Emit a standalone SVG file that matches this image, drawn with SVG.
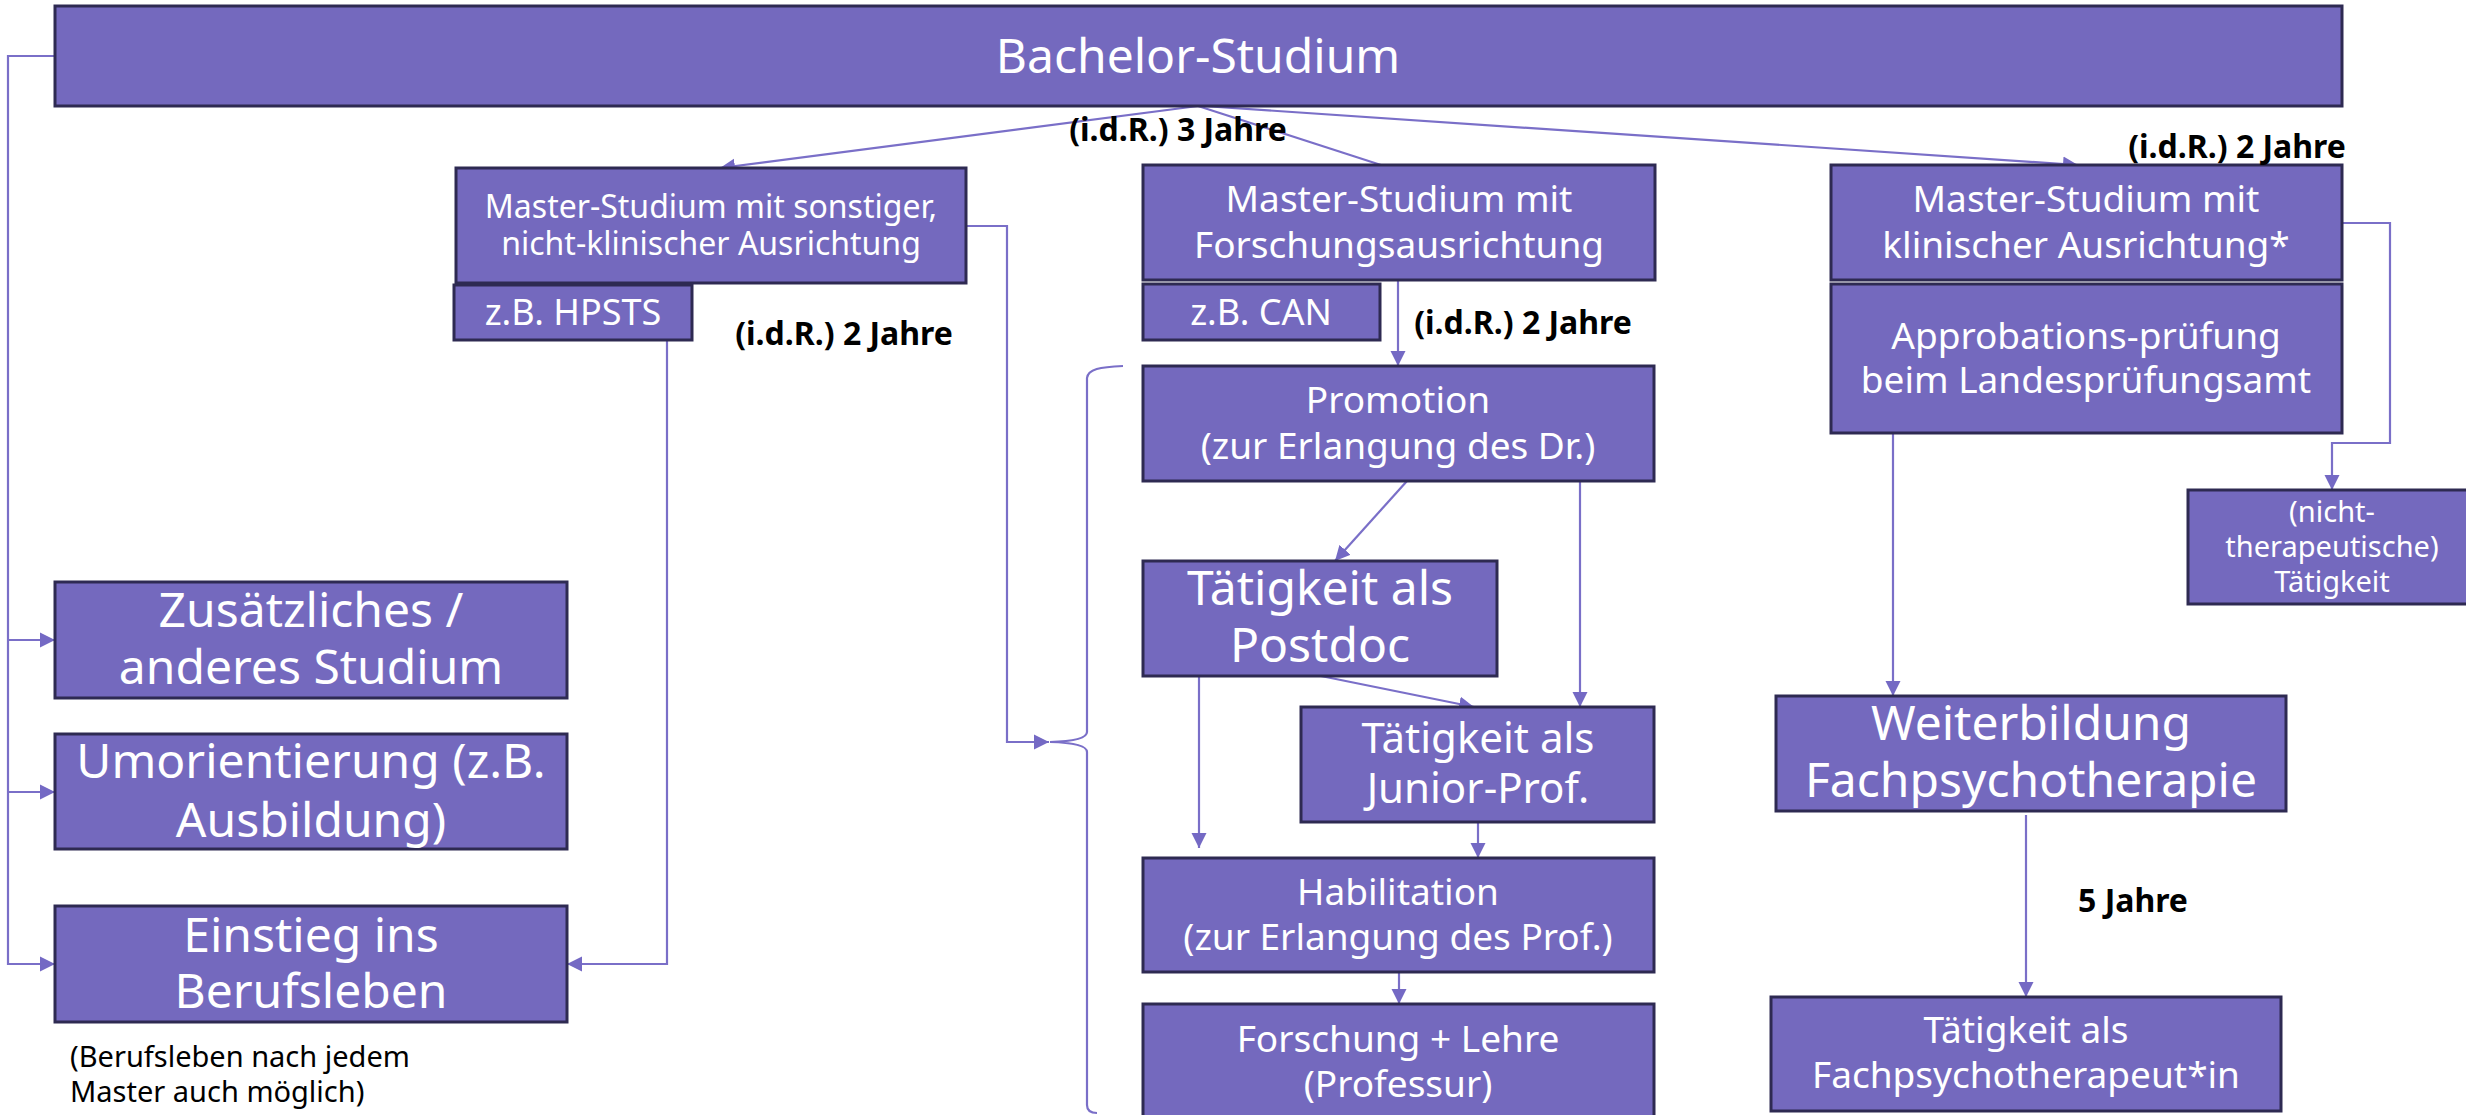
<svg xmlns="http://www.w3.org/2000/svg" width="2466" height="1115" viewBox="0 0 2466 1115">
<style>
.box{fill:#7469be;stroke:#2e2a52;stroke-width:3}
.t{font-family:"Noto Sans","Open Sans",sans-serif;fill:#ffffff;text-anchor:middle}
.lbl{font-family:"Noto Sans","Open Sans",sans-serif;font-weight:bold;fill:#000000;text-anchor:middle;font-size:32px}
.note{font-family:"Noto Sans","Open Sans",sans-serif;fill:#000000;font-size:29px}
.c{fill:none;stroke:#7a6fc8;stroke-width:2.2}
</style>
<defs>
<marker id="ah" markerUnits="userSpaceOnUse" markerWidth="16" markerHeight="16" viewBox="0 0 16 16" refX="15" refY="8" orient="auto">
<path d="M0,0.5 L15,8 L0,15.5 Z" fill="#7469c4"/>
</marker>
</defs>
<rect width="2466" height="1115" fill="#ffffff"/>

<g id="connectors">
<path class="c" d="M1198,106 L720,168" marker-end="url(#ah)"/>
<path class="c" d="M1198,106 L1381,165"/>
<path class="c" d="M1203,106 L2078,165" marker-end="url(#ah)"/>
<path class="c" d="M1398,280 V366" marker-end="url(#ah)"/>
<path class="c" d="M966,226 H1007 V742 H1049" marker-end="url(#ah)"/>
<path class="c" d="M1123,366 C1100,367 1088,369 1087,378 V732 Q1087,741 1050,742 Q1087,743 1087,752 V1105 Q1087,1113 1097,1113"/>
<path class="c" d="M55,56 H8 V964 H55" marker-end="url(#ah)"/>
<path class="c" d="M8,640 H55" marker-end="url(#ah)"/>
<path class="c" d="M8,792 H55" marker-end="url(#ah)"/>
<path class="c" d="M667,340 V964 H567" marker-end="url(#ah)"/>
<path class="c" d="M1407,481 L1335,561" marker-end="url(#ah)"/>
<path class="c" d="M1580,481 V707" marker-end="url(#ah)"/>
<path class="c" d="M1321,676 L1474,707" marker-end="url(#ah)"/>
<path class="c" d="M1199,676 V848" marker-end="url(#ah)"/>
<path class="c" d="M1478,822 V858" marker-end="url(#ah)"/>
<path class="c" d="M1399,972 V1004" marker-end="url(#ah)"/>
<path class="c" d="M1893,433 V696" marker-end="url(#ah)"/>
<path class="c" d="M2026,815 V997" marker-end="url(#ah)"/>
<path class="c" d="M2342,223 H2390 V443 H2332 V490" marker-end="url(#ah)"/>
</g>

<g id="bachelor">
<rect class="box" x="55" y="6" width="2287" height="100"/>
<text class="t" x="1198" y="73" font-size="48">Bachelor-Studium</text>
</g>

<g id="master-sonstig">
<rect class="box" x="456" y="168" width="510" height="115"/>
<text class="t" x="711" y="218" font-size="32">Master-Studium mit sonstiger,</text>
<text class="t" x="711" y="255" font-size="32">nicht-klinischer Ausrichtung</text>
</g>

<g id="hpsts">
<rect class="box" x="454" y="285" width="238" height="55"/>
<text class="t" x="573" y="325" font-size="36">z.B. HPSTS</text>
</g>

<g id="master-forschung">
<rect class="box" x="1143" y="165" width="512" height="115"/>
<text class="t" x="1399" y="212" font-size="37">Master-Studium mit</text>
<text class="t" x="1399" y="258" font-size="37">Forschungsausrichtung</text>
</g>

<g id="can">
<rect class="box" x="1143" y="284" width="237" height="56"/>
<text class="t" x="1261" y="325" font-size="36">z.B. CAN</text>
</g>

<g id="master-klinisch">
<rect class="box" x="1831" y="165" width="511" height="115"/>
<text class="t" x="2086" y="212" font-size="37">Master-Studium mit</text>
<text class="t" x="2086" y="258" font-size="37">klinischer Ausrichtung*</text>
</g>

<g id="approbation">
<rect class="box" x="1831" y="284" width="511" height="149"/>
<text class="t" x="2086" y="349" font-size="37">Approbations-prüfung</text>
<text class="t" x="2086" y="393" font-size="37">beim Landesprüfungsamt</text>
</g>

<g id="promotion">
<rect class="box" x="1143" y="366" width="511" height="115"/>
<text class="t" x="1398" y="413" font-size="37">Promotion</text>
<text class="t" x="1398" y="459" font-size="37">(zur Erlangung des Dr.)</text>
</g>

<g id="postdoc">
<rect class="box" x="1143" y="561" width="354" height="115"/>
<text class="t" x="1320" y="605" font-size="48">Tätigkeit als</text>
<text class="t" x="1320" y="662" font-size="48">Postdoc</text>
</g>

<g id="juniorprof">
<rect class="box" x="1301" y="707" width="353" height="115"/>
<text class="t" x="1478" y="753" font-size="42">Tätigkeit als</text>
<text class="t" x="1478" y="803" font-size="42">Junior-Prof.</text>
</g>

<g id="habilitation">
<rect class="box" x="1143" y="858" width="511" height="114"/>
<text class="t" x="1398" y="905" font-size="37">Habilitation</text>
<text class="t" x="1398" y="950" font-size="37">(zur Erlangung des Prof.)</text>
</g>

<g id="professur">
<rect class="box" x="1143" y="1004" width="511" height="115"/>
<text class="t" x="1398" y="1052" font-size="37">Forschung + Lehre</text>
<text class="t" x="1398" y="1097" font-size="37">(Professur)</text>
</g>

<g id="weiterbildung">
<rect class="box" x="1776" y="696" width="510" height="115"/>
<text class="t" x="2031" y="740" font-size="48">Weiterbildung</text>
<text class="t" x="2031" y="797" font-size="48">Fachpsychotherapie</text>
</g>

<g id="fachpsychotherapeut">
<rect class="box" x="1771" y="997" width="510" height="114"/>
<text class="t" x="2026" y="1043" font-size="37">Tätigkeit als</text>
<text class="t" x="2026" y="1088" font-size="37">Fachpsychotherapeut*in</text>
</g>

<g id="nicht-therapeutisch">
<rect class="box" x="2188" y="490" width="290" height="114"/>
<text class="t" x="2332" y="522" font-size="29">(nicht-</text>
<text class="t" x="2332" y="557" font-size="29">therapeutische)</text>
<text class="t" x="2332" y="592" font-size="29">Tätigkeit</text>
</g>

<g id="zusaetzlich">
<rect class="box" x="55" y="582" width="512" height="116"/>
<text class="t" x="311" y="627" font-size="48">Zusätzliches /</text>
<text class="t" x="311" y="684" font-size="48">anderes Studium</text>
</g>

<g id="umorientierung">
<rect class="box" x="55" y="734" width="512" height="115"/>
<text class="t" x="311" y="778" font-size="48">Umorientierung (z.B.</text>
<text class="t" x="311" y="837" font-size="48">Ausbildung)</text>
</g>

<g id="einstieg">
<rect class="box" x="55" y="906" width="512" height="116"/>
<text class="t" x="311" y="952" font-size="48">Einstieg ins</text>
<text class="t" x="311" y="1008" font-size="48">Berufsleben</text>
</g>

<g id="labels">
<text class="lbl" x="1178" y="141">(i.d.R.) 3 Jahre</text>
<text class="lbl" x="844" y="345">(i.d.R.) 2 Jahre</text>
<text class="lbl" x="1523" y="334">(i.d.R.) 2 Jahre</text>
<text class="lbl" x="2237" y="158">(i.d.R.) 2 Jahre</text>
<text class="lbl" x="2133" y="912">5 Jahre</text>
<text class="note" x="70" y="1067">(Berufsleben nach jedem</text>
<text class="note" x="70" y="1102">Master auch möglich)</text>
</g>
</svg>
